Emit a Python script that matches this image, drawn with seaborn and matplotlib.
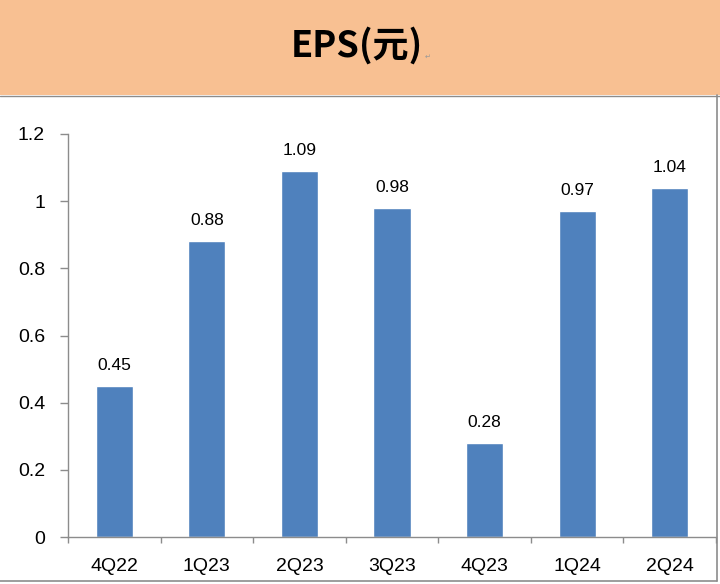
import matplotlib
matplotlib.use("Agg")
import matplotlib.pyplot as plt
import seaborn as sns
import pandas as pd
from matplotlib.patches import Rectangle
from matplotlib.lines import Line2D
from matplotlib.ticker import FuncFormatter

# data
quarters = ["4Q22", "1Q23", "2Q23", "3Q23", "4Q23", "1Q24", "2Q24"]
eps = [0.45, 0.88, 1.09, 0.98, 0.28, 0.97, 1.04]

sns.set_theme(style="white")
plt.rcParams["font.family"] = ["Liberation Sans", "DejaVu Sans"]

df = pd.DataFrame({"quarter": quarters, "eps": eps})

fig = plt.figure(figsize=(7.2, 5.84), dpi=100)
fig.patch.set_facecolor("white")

# orange header band
fig.patches.append(Rectangle((0, 1 - 95 / 584), 1, 95 / 584, transform=fig.transFigure,
                             facecolor="#F8C092", edgecolor="none", zorder=0))
fig.text(0.496, 1 - 46 / 584, "EPS(元)", ha="center", va="center", fontsize=26,
         fontweight="bold", family=["Noto Sans CJK TC", "DejaVu Sans"], color="black")
fig.text(0.594, 1 - 57 / 584, "↵", ha="center", va="center", fontsize=5,
         family=["DejaVu Sans"], color="#999999")

# frame lines around chart area
gray = "#8c8c8c"
fig.lines.append(Line2D([0, 1], [1 - 95.5 / 584] * 2, transform=fig.transFigure, color=gray, lw=1))
fig.lines.append(Line2D([717 / 720] * 2, [1 - 95 / 584, 1 - 581 / 584], transform=fig.transFigure,
                        color=gray, lw=1.2))
fig.lines.append(Line2D([0, 717 / 720], [1 - 581 / 584] * 2, transform=fig.transFigure,
                        color=gray, lw=1.2))

ax = fig.add_axes([68 / 720, 1 - 537 / 584, 648 / 720, (537 - 134) / 584])
sns.barplot(data=df, x="quarter", y="eps", color="#4F81BD", saturation=1, width=0.4, ax=ax)

ax.set_ylim(0, 1.2)
ax.set_xlim(-0.5, len(quarters) - 0.5)
ax.set_yticks([0, 0.2, 0.4, 0.6, 0.8, 1.0, 1.2])
ax.yaxis.set_major_formatter(FuncFormatter(lambda v, p: f"{v:g}"))
ax.set_xlabel("")
ax.set_ylabel("")
ax.set_facecolor("none")

for s in ["top", "right"]:
    ax.spines[s].set_visible(False)
for s in ["left", "bottom"]:
    ax.spines[s].set_color(gray)
    ax.spines[s].set_linewidth(1)

# y ticks outward, x ticks between categories
ax.tick_params(axis="y", left=True, length=6, width=1, color=gray, direction="out",
               labelsize=14, pad=10.5, labelcolor="black")
ax.set_xticks([i - 0.5 for i in range(len(quarters) + 1)], minor=False)
ax.set_xticklabels([""] * (len(quarters) + 1))
ax.tick_params(axis="x", bottom=True, length=4.5, width=1, color=gray, direction="out")
ax.set_xticks(range(len(quarters)), minor=True)
ax.set_xticklabels(quarters, minor=True)
ax.tick_params(axis="x", which="minor", bottom=False, length=0, labelsize=14, pad=15,
               labelcolor="black")

for i, v in enumerate(eps):
    ax.annotate(f"{v:.2f}", (i, v), xytext=(0, 9.5), textcoords="offset points",
                ha="center", va="bottom", fontsize=12.5, color="black")

fig.savefig("out.png", dpi=100)
